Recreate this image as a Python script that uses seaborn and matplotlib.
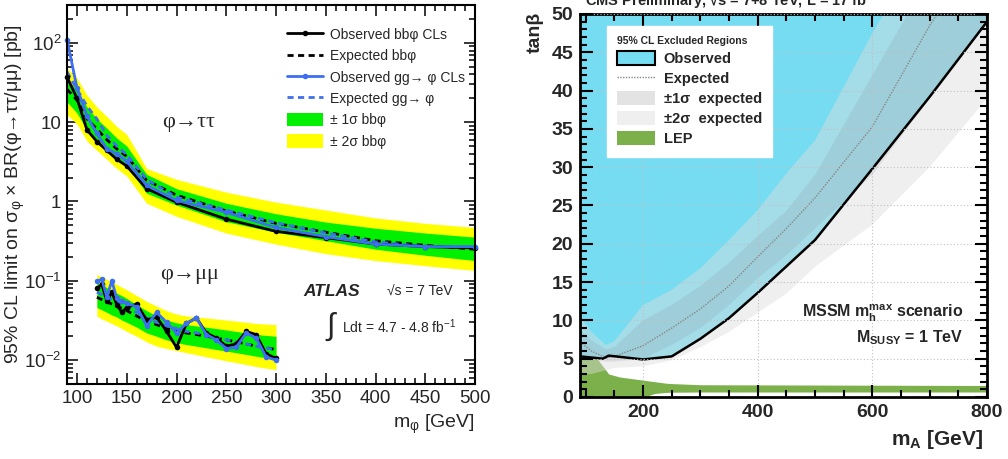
import numpy as np
import seaborn as sns
import matplotlib.pyplot as plt
from matplotlib.lines import Line2D
from matplotlib.patches import Patch
from matplotlib.ticker import MultipleLocator, LogLocator, NullFormatter, FixedLocator, FixedFormatter

sns.set_theme(style='ticks')
plt.rcParams['font.family'] = ['Liberation Sans', 'DejaVu Sans']
plt.rcParams['mathtext.fontset'] = 'custom'
plt.rcParams['mathtext.rm'] = 'Liberation Sans'
plt.rcParams['mathtext.it'] = 'Liberation Sans:italic'
plt.rcParams['mathtext.bf'] = 'Liberation Sans:bold'

# ---------------- ATLAS: phi -> tautau ----------------
tau_mass = [90, 100, 110, 120, 130, 140, 150, 170, 200, 250, 300, 350, 400, 450, 500]
tau_obs_bb = [37, 20, 8.0, 5.7, 4.4, 3.4, 2.8, 1.45, 0.98, 0.60, 0.42, 0.35, 0.29, 0.27, 0.26]
tau_obs_gg = [110, 27, 11.9, 7.2, 4.6, 4.0, 3.2, 1.6, 1.03, 0.73, 0.47, 0.36, 0.29, 0.27, 0.27]
tau_exp_bb = [26, 19, 11, 8.2, 6.0, 4.6, 3.7, 1.85, 1.2, 0.76, 0.53, 0.41, 0.32, 0.28, 0.25]
tau_exp_gg = [43, 26, 16, 11, 6.8, 5.0, 3.9, 1.9, 1.13, 0.78, 0.54, 0.40, 0.31, 0.27, 0.26]
tau_2s_up = [48, 36, 22, 15.5, 11.8, 8.8, 7.0, 2.6, 1.9, 1.31, 0.98, 0.78, 0.62, 0.53, 0.47]
tau_1s_up = [34, 26, 15.5, 11, 8.4, 6.3, 5.0, 2.2, 1.45, 0.95, 0.70, 0.55, 0.46, 0.40, 0.355]
tau_1s_dn = [18, 13, 8.0, 6.0, 4.6, 3.5, 2.8, 1.27, 0.9, 0.555, 0.41, 0.32, 0.25, 0.21, 0.18]
tau_2s_dn = [12.4, 9.5, 5.8, 4.4, 3.4, 2.6, 2.1, 0.95, 0.65, 0.40, 0.29, 0.22, 0.18, 0.155, 0.135]

# ---------------- ATLAS: phi -> mumu ----------------
mu_mass = [120, 125, 130, 135, 140, 145, 150, 160, 170, 180, 190, 200,
           210, 220, 230, 240, 250, 260, 270, 280, 290, 300]
mu_obs_bb = [0.080, 0.090, 0.055, 0.072, 0.050, 0.040, 0.046, 0.051, 0.032, 0.035, 0.023, 0.0145,
             0.029, 0.034, 0.022, 0.019, 0.015, 0.016, 0.023, 0.021, 0.012, 0.0105]
mu_obs_gg = [0.098, 0.105, 0.062, 0.100, 0.060, 0.055, 0.052, 0.047, 0.027, 0.040, 0.030, 0.022,
             0.029, 0.034, 0.021, 0.018, 0.014, 0.0145, 0.022, 0.019, 0.011, 0.010]
mu_exp_bb = [0.062, 0.058, 0.054, 0.051, 0.048, 0.045, 0.042, 0.036, 0.031, 0.028, 0.025, 0.023,
             0.022, 0.021, 0.020, 0.019, 0.018, 0.017, 0.016, 0.015, 0.0143, 0.0136]
mu_exp_gg = [0.072, 0.067, 0.062, 0.058, 0.054, 0.050, 0.046, 0.040, 0.034, 0.030, 0.027, 0.025,
             0.023, 0.022, 0.021, 0.019, 0.018, 0.017, 0.016, 0.015, 0.0142, 0.0135]
mu_2s_up = [0.12, 0.112, 0.104, 0.097, 0.090, 0.083, 0.077, 0.065, 0.055, 0.048, 0.042, 0.038,
            0.036, 0.035, 0.034, 0.033, 0.032, 0.031, 0.030, 0.029, 0.0285, 0.028]
mu_1s_up = [0.095, 0.088, 0.082, 0.076, 0.070, 0.065, 0.060, 0.050, 0.042, 0.036, 0.032, 0.0295,
            0.028, 0.027, 0.026, 0.025, 0.024, 0.023, 0.022, 0.021, 0.0205, 0.020]
mu_1s_dn = [0.046, 0.043, 0.040, 0.037, 0.035, 0.032, 0.030, 0.026, 0.022, 0.020, 0.018, 0.0166,
            0.0157, 0.015, 0.0143, 0.0136, 0.013, 0.0124, 0.0118, 0.0112, 0.0107, 0.0102]
mu_2s_dn = [0.036, 0.033, 0.031, 0.029, 0.027, 0.025, 0.023, 0.020, 0.017, 0.015, 0.014, 0.0132,
            0.0124, 0.0117, 0.011, 0.0104, 0.0098, 0.0093, 0.0088, 0.0083, 0.0079, 0.0076]

# ---------------- CMS: mA - tanb plane ----------------
cms_obs_mass = [90, 130, 140, 200, 250, 300, 350, 400, 500, 600, 700, 800]
cms_obs_tanb = [5.3, 5.0, 5.4, 4.9, 5.3, 7.6, 10.3, 13.6, 20.5, 29.8, 39.2, 49.0]
cms_band_mass = [90, 110, 135, 150, 200, 250, 300, 350, 400, 450, 500, 600, 700, 800]
cms_exp = [7.2, 6.0, 5.1, 5.3, 6.7, 9.0, 11.5, 14.5, 18.3, 22.0, 26.0, 35.3, 48.5, 60]
cms_2s_up = [10.5, 8.5, 6.8, 7.3, 12.0, 14.0, 16.8, 20.5, 24.4, 29.2, 33.5, 47.5, 60, 70]
cms_1s_up = [8.8, 7.4, 6.2, 6.5, 10.0, 12.0, 14.5, 17.5, 21.0, 24.3, 29.0, 42.0, 55, 68]
cms_1s_dn = [5.5, 5.0, 4.6, 4.6, 5.0, 6.8, 9.0, 12.0, 15.5, 18.5, 22.0, 29.0, 39.0, 49.0]
cms_2s_dn = [3.0, 3.0, 3.5, 3.8, 4.0, 4.8, 6.5, 8.5, 11.0, 13.5, 17.0, 22.5, 30.0, 39.0]
lep_mass = [90, 120, 130, 140, 160, 200, 205, 210, 220, 240, 250, 300, 800]
lep_top = [5.0, 5.0, 4.0, 3.0, 2.6, 2.2, 2.15, 2.1, 2.0, 1.8, 1.75, 1.6, 1.5]
lep_bot = [0, 0, 0, 0, 0, 0, 0, 0.2, 0.45, 0.6, 0.62, 0.65, 0.65]

fig = plt.figure(figsize=(10.08, 4.59), dpi=100)

# ================= left panel =================
ax = fig.add_axes([0.0665, 0.1634, 0.4048, 0.8257])
ax.set_yscale('log')
ax.fill_between(tau_mass, tau_2s_dn, tau_2s_up, color='#ffff00', lw=0)
ax.fill_between(tau_mass, tau_1s_dn, tau_1s_up, color='#00f000', lw=0)
ax.fill_between(mu_mass, mu_2s_dn, mu_2s_up, color='#ffff00', lw=0)
ax.fill_between(mu_mass, mu_1s_dn, mu_1s_up, color='#00f000', lw=0)

dash = (0, (2.2, 1.6))
blue = '#3d6ff0'
for m, e in [(tau_mass, tau_exp_bb), (mu_mass, mu_exp_bb)]:
    sns.lineplot(x=m, y=e, ax=ax, color='black', lw=2, linestyle=dash)
for m, e in [(tau_mass, tau_exp_gg), (mu_mass, mu_exp_gg)]:
    sns.lineplot(x=m, y=e, ax=ax, color=blue, lw=2, linestyle=dash)
for m, o in [(tau_mass, tau_obs_bb), (mu_mass, mu_obs_bb)]:
    sns.lineplot(x=m, y=o, ax=ax, color='black', lw=2, marker='o', markersize=4,
                 markeredgewidth=0, clip_on=False)
for m, o in [(tau_mass, tau_obs_gg), (mu_mass, mu_obs_gg)]:
    sns.lineplot(x=m, y=o, ax=ax, color=blue, lw=2, marker='o', markersize=4,
                 markeredgewidth=0, clip_on=False)

ax.set_xlim(90, 500)
ax.set_ylim(0.005, 300)
ax.xaxis.set_major_locator(MultipleLocator(50))
ax.xaxis.set_minor_locator(MultipleLocator(10))
ax.yaxis.set_major_locator(FixedLocator([0.01, 0.1, 1, 10, 100]))
ax.yaxis.set_major_formatter(FixedFormatter(['$10^{-2}$', '$10^{-1}$', '1', '10', '$10^{2}$']))
ax.yaxis.set_minor_locator(LogLocator(base=10, subs=np.arange(2, 10)))
ax.yaxis.set_minor_formatter(NullFormatter())
ax.tick_params(which='both', direction='in', top=True, right=True, labelsize=13.5,
               width=1.1, color='black', pad=4)
ax.tick_params(which='major', length=8)
ax.tick_params(which='minor', length=4.5)
for s in ax.spines.values():
    s.set_linewidth(1.5)
    s.set_color('black')
ax.set_xlabel('m$_{\\mathrm{φ}}$ [GeV]', fontsize=14, loc='right')
ax.xaxis.set_label_coords(1.0, -0.075)
ax.set_ylabel('95% CL limit on σ$_{\\mathrm{φ}}$ × BR(φ→ττ/μμ) [pb]', fontsize=14)
ax.yaxis.set_label_coords(-0.098, 0.5)

ax.text(0.299, 0.689, 'φ→ττ', transform=ax.transAxes, fontsize=16,
        family='Liberation Serif', ha='center', va='center')
ax.text(0.301, 0.288, 'φ→μμ', transform=ax.transAxes, fontsize=16,
        family='Liberation Serif', ha='center', va='center')
ax.text(0.578, 0.243, 'ATLAS', transform=ax.transAxes, fontsize=12.5,
        weight='bold', style='italic', va='center')
ax.text(0.784, 0.243, '√s = 7 TeV', transform=ax.transAxes, fontsize=10, va='center')
ax.text(0.645, 0.152, '∫', transform=ax.transAxes, fontsize=22, va='center', ha='center')
ax.text(0.674, 0.150, 'Ldt = 4.7 - 4.8 fb$^{-1}$', transform=ax.transAxes, fontsize=10,
        va='center')

handles = [
    Line2D([], [], color='black', lw=2, marker='o', markersize=4, markeredgewidth=0),
    Line2D([], [], color='black', lw=2, linestyle=dash),
    Line2D([], [], color=blue, lw=2, marker='o', markersize=4, markeredgewidth=0),
    Line2D([], [], color=blue, lw=2, linestyle=dash),
    Patch(facecolor='#00f000', lw=0),
    Patch(facecolor='#ffff00', lw=0),
]
labels = ['Observed bbφ CLs', 'Expected bbφ', 'Observed gg→ φ CLs', 'Expected gg→ φ',
          '± 1σ bbφ', '± 2σ bbφ']
ax.legend(handles, labels, loc='upper left', bbox_to_anchor=(0.539, 0.94), frameon=False,
          fontsize=10, borderpad=0, borderaxespad=0, handlelength=2.6, handleheight=1.1,
          handletextpad=0.5, labelspacing=0.5)

# ================= right panel =================
bx = fig.add_axes([0.5754, 0.1351, 0.4038, 0.8344])
cblue = '#76dcf2'
bx.fill_between(cms_obs_mass, cms_obs_tanb, 50, color=cblue, lw=0)
bx.fill_between(lep_mass, lep_bot, lep_top, color='#7cb04a', lw=0)
bx.fill_between(cms_band_mass, cms_2s_dn, cms_2s_up, color='#dddddd', alpha=0.45, lw=0)
bx.fill_between(cms_band_mass, cms_1s_dn, cms_1s_up, color='#707070', alpha=0.12, lw=0)
sns.lineplot(x=cms_band_mass, y=cms_exp, ax=bx, color='#888888', lw=1, linestyle=(0, (1, 1)))
sns.lineplot(x=cms_obs_mass, y=cms_obs_tanb, ax=bx, color='black', lw=1.8)

bx.set_xlim(90, 800)
bx.set_ylim(0, 50)
bx.xaxis.set_major_locator(MultipleLocator(200))
bx.xaxis.set_minor_locator(MultipleLocator(50))
bx.yaxis.set_major_locator(MultipleLocator(5))
bx.yaxis.set_minor_locator(MultipleLocator(1))
bx.grid(True, which='major', color='#c0c0c0', linestyle=(0, (1, 2)), lw=0.8)
bx.set_axisbelow(False)
bx.tick_params(which='both', direction='in', top=True, right=True, labelsize=14,
               width=1.5, color='black', pad=5)
bx.tick_params(which='major', length=9)
bx.tick_params(which='minor', length=5)
for lab in bx.get_xticklabels() + bx.get_yticklabels():
    lab.set_fontweight('bold')
for s in bx.spines.values():
    s.set_linewidth(2)
    s.set_color('black')
bx.set_xlabel('m$_{\\mathbf{A}}$ [GeV]', fontsize=15, weight='bold', loc='right')
bx.xaxis.set_label_coords(0.99, -0.08)
bx.set_ylabel('tanβ', fontsize=14, weight='bold', loc='top')
bx.yaxis.set_label_coords(-0.09, 1.005)

bx.text(0.941, 0.219, 'MSSM m$_{\\mathbf{h}}^{\\mathbf{max}}$ scenario', transform=bx.transAxes,
        fontsize=11.5, weight='bold', ha='right', va='center')
bx.text(0.941, 0.154, 'M$_{\\mathbf{SUSY}}$ = 1 TeV', transform=bx.transAxes,
        fontsize=11.5, weight='bold', ha='right', va='center')

chandles = [
    Patch(facecolor=cblue, edgecolor='black', lw=1.5),
    Line2D([], [], color='#888888', lw=1, linestyle=(0, (1, 1))),
    Patch(facecolor='#e3e3e3', lw=0),
    Patch(facecolor='#efefef', lw=0),
    Patch(facecolor='#7cb04a', lw=0),
]
clabels = ['Observed', 'Expected', '±1σ  expected', '±2σ  expected', 'LEP']
leg = bx.legend(chandles, clabels, loc='upper left', bbox_to_anchor=(0.066, 0.969),
                title='95% CL Excluded Regions', frameon=True, fancybox=False,
                framealpha=1, edgecolor='white', borderaxespad=0, borderpad=0.7,
                prop={'weight': 'bold', 'size': 10.5},
                title_fontproperties={'weight': 'bold', 'size': 7.5},
                handlelength=2.6, handleheight=1.1, handletextpad=0.6, labelspacing=0.35)
leg._legend_box.align = 'left'

fig.text(0.580, 0.987, 'CMS Preliminary, √s = 7+8 TeV, L = 17 fb$^{\\mathbf{-1}}$',
         fontsize=10.5, weight='bold', ha='left', va='baseline')

fig.savefig('out.png', dpi=100)
